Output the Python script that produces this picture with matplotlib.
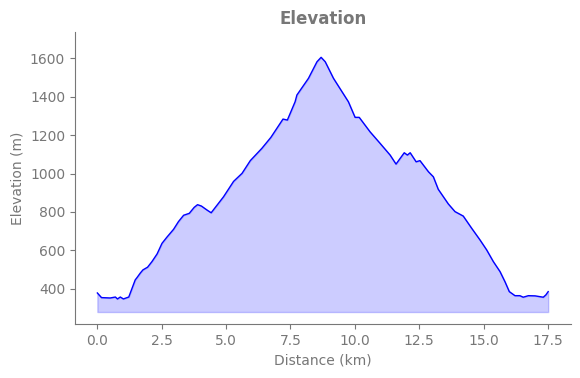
import matplotlib
matplotlib.use("Agg")
import matplotlib.pyplot as plt

# distance (km) / elevation (m)
distance = [0.00, 0.16, 0.50, 0.70, 0.78, 0.89, 1.01, 1.22, 1.47, 1.54, 1.67, 1.77,
            1.95, 2.12, 2.32, 2.51, 2.70, 2.96, 3.15, 3.35, 3.57, 3.76, 3.89, 4.04,
            4.26, 4.42, 4.90, 5.29, 5.62, 5.94, 6.39, 6.74, 7.21, 7.38, 7.68, 7.75,
            8.20, 8.53, 8.69, 8.85, 9.17, 9.75, 10.01, 10.17, 10.59, 10.98, 11.37,
            11.60, 11.92, 12.04, 12.15, 12.38, 12.53, 12.86, 13.05, 13.24, 13.63,
            13.89, 14.21, 14.54, 14.86, 15.12, 15.38, 15.64, 15.83, 16.00, 16.22,
            16.41, 16.54, 16.74, 17.00, 17.32, 17.42, 17.51]
elevation = [379, 355, 353, 358, 348, 358, 348, 358, 447, 459, 483, 499,
             513, 542, 582, 637, 669, 710, 750, 783, 793, 824, 838, 831,
             810, 796, 879, 959, 1001, 1067, 1131, 1188, 1283, 1278, 1373, 1408,
             1495, 1581, 1604, 1581, 1495, 1373, 1292, 1292, 1217, 1157, 1096,
             1049, 1108, 1096, 1108, 1061, 1067, 1009, 983, 918, 842,
             802, 779, 715, 655, 603, 542, 490, 438, 386, 365,
             365, 357, 365, 364, 357, 369, 386]
base = 280

grey = "#777777"
fig = plt.figure(figsize=(5.8, 3.78), dpi=100)
ax = fig.add_axes([0.129, 0.143, 0.855, 0.772])

ax.fill_between(distance, base, elevation, color="blue", alpha=0.2)
ax.plot(distance, elevation, color="blue", linewidth=1)

ax.set_ylim(218, 1735)
ax.set_xticks([0, 2.5, 5, 7.5, 10, 12.5, 15, 17.5])
ax.set_yticks([400, 600, 800, 1000, 1200, 1400, 1600])
ax.set_title("Elevation", color=grey, fontweight="bold", fontsize=12)
ax.set_xlabel("Distance (km)", color=grey)
ax.set_ylabel("Elevation (m)", color=grey)
ax.tick_params(colors=grey, labelcolor=grey)
for side in ["top", "right"]:
    ax.spines[side].set_visible(False)
for side in ["left", "bottom"]:
    ax.spines[side].set_color(grey)

fig.savefig("out.png", dpi=100)
